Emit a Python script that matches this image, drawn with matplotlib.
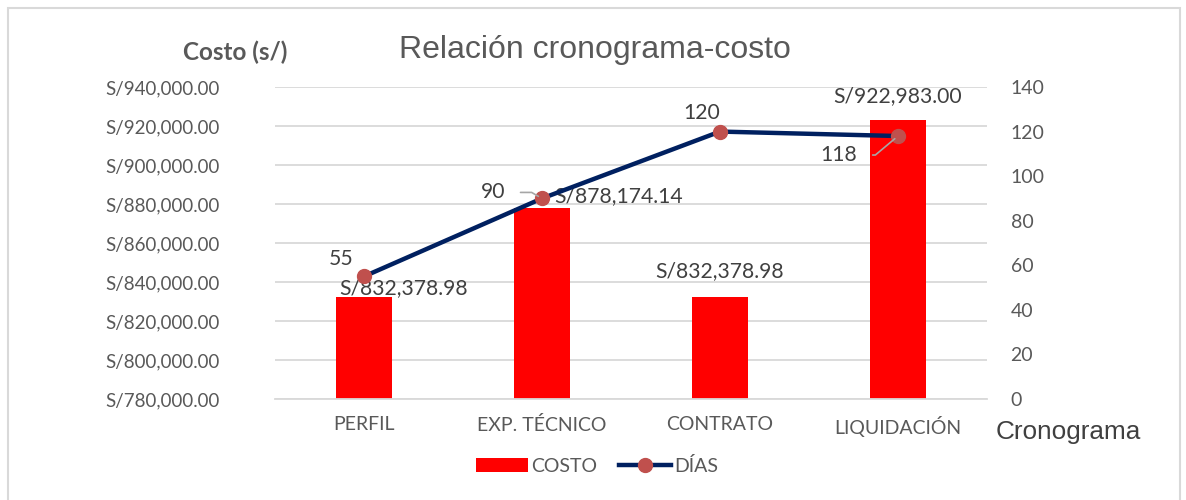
import matplotlib.pyplot as plt
import matplotlib.patches as mpatches
import numpy as np

# data
etapas = ['PERFIL', 'EXP. TÉCNICO', 'CONTRATO', 'LIQUIDACIÓN']
costo = [832378.98, 878174.14, 832378.98, 922983.00]
dias = [55, 90, 120, 118]

# label offsets in pixels (text placement only)
costo_off = [(40, 9), (77, 11), (0, 26), (0, 24)]
dias_off = [(-23, 17), (-49, 6), (-18, 19), (-59, -19)]
dias_leader = [None, -30, None, 40]

plt.rcParams['font.family'] = ['Lato', 'DejaVu Sans']
gris = '#595959'
gris_osc = '#404040'

fig = plt.figure(figsize=(11.86, 5.0), dpi=100)
ax = fig.add_axes([275 / 1186, 1 - 399 / 500, 712 / 1186, 312 / 500])
ax2 = ax.twinx()

x = np.arange(len(etapas))
bars = ax.bar(x, costo, 0.31, color='#ff0000', label='COSTO', zorder=2)
ax.set_ylim(780000, 940000)
ax.set_xlim(-0.5, len(etapas) - 0.5)
ax.set_yticks(np.arange(780000, 940001, 20000))
ax.set_yticklabels(['S/{:,.2f}'.format(v) for v in np.arange(780000, 940001, 20000)])
ax.set_xticks(x)
ax.set_xticklabels(etapas)
ax.yaxis.grid(True, color='#d9d9d9', linewidth=1.3, zorder=0)
ax.set_axisbelow(True)
for s in ['top', 'left', 'right']:
    ax.spines[s].set_visible(False)
ax.spines['bottom'].set_color('#d9d9d9')
ax.spines['bottom'].set_linewidth(1.3)
ax.tick_params(axis='y', length=0, pad=40, labelsize=13.5, labelcolor=gris)
ax.tick_params(axis='x', length=0, pad=12, labelsize=14, labelcolor=gris)

for i, v in enumerate(costo):
    ax.annotate('S/{:,.2f}'.format(v), (x[i], v), xytext=costo_off[i],
                textcoords='offset pixels', ha='center', va='center',
                fontsize=15.2, color=gris_osc)

line, = ax2.plot(x, dias, color='#002060', linewidth=3.2, marker='o',
                 markersize=10, markerfacecolor='#c0504d', markeredgecolor='#c0504d',
                 label='DÍAS', zorder=3)
ax2.set_ylim(0, 140)
ax2.set_yticks(np.arange(0, 141, 20))
for s in ['top', 'left', 'right', 'bottom']:
    ax2.spines[s].set_visible(False)
ax2.tick_params(axis='y', length=0, pad=17, labelsize=14, labelcolor=gris)

for i, v in enumerate(dias):
    if dias_leader[i] is not None:
        ax2.annotate(str(v), (x[i], v), xytext=dias_off[i], textcoords='offset pixels',
                     ha='center', va='center', fontsize=15.2, color=gris_osc,
                     arrowprops=dict(arrowstyle='-', color='#a6a6a6', lw=1.2,
                                     shrinkA=9, shrinkB=3,
                                     connectionstyle='angle,angleA=0,angleB=%d,rad=0'
                                     % dias_leader[i]))
    else:
        ax2.annotate(str(v), (x[i], v), xytext=dias_off[i], textcoords='offset pixels',
                     ha='center', va='center', fontsize=15.2, color=gris_osc)

fig.text(595 / 1186, 1 - 50 / 500, 'Relación cronograma-costo', ha='center', va='center',
         fontsize=23, color=gris, family=['Liberation Sans', 'DejaVu Sans'])
fig.text(235 / 1186, 1 - 52 / 500, 'Costo (s/)', ha='center', va='center',
         fontsize=17.5, fontweight='bold', color=gris)
fig.text(1068 / 1186, 1 - 432 / 500, 'Cronograma', ha='center', va='center',
         fontsize=18.8, color=gris_osc, family=['Liberation Sans', 'DejaVu Sans'])

fig.legend([bars, line], ['COSTO', 'DÍAS'], loc='center',
           bbox_to_anchor=(597 / 1186, 1 - 466 / 500), ncol=2, frameon=False,
           fontsize=14, labelcolor=gris, handlelength=2.7, handletextpad=0.15,
           columnspacing=1.1)

# chart border
fig.patches.append(mpatches.Rectangle((8 / 1186, -0.1), 1172 / 1186, 1.1 - 8 / 500,
                                      transform=fig.transFigure, fill=False,
                                      edgecolor='#d9d9d9', linewidth=1.5))

fig.savefig('out.png', dpi=100)
